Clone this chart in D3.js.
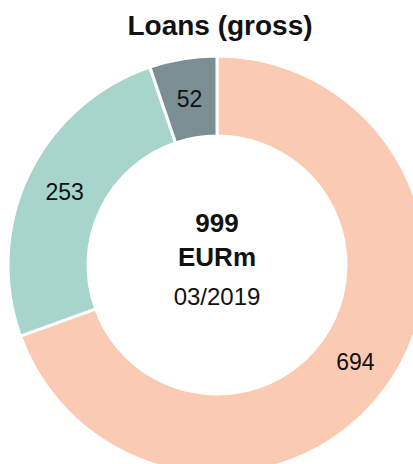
<!DOCTYPE html>
<html lang="en">
  <head>
    <meta charset="UTF-8" />
    <script src="https://d3js.org/d3.v7.min.js"></script>
    <style>
      body { margin: 0; background: #fff; }
      text { font-family: "Liberation Sans", Arial, sans-serif; fill: #111; }
    </style>
    <title>Loans (gross)</title>
  </head>
  <body>
    <svg id="chart" width="413" height="464"></svg>
    <script>
      // data
      const categories = ["A", "B", "C"];
      const values = [694, 253, 52];
      const colors = ["#fbcab2", "#a8d5cb", "#7b8e93"];
      const title = "Loans (gross)";
      const total = "999";
      const unit = "EURm";
      const date = "03/2019";

      const svg = d3.select("#chart");
      const cx = 217, cy = 265;
      const outerR = 209, innerR = 129;

      svg.append("text")
        .attr("x", 220)
        .attr("y", 35)
        .attr("text-anchor", "middle")
        .style("font-size", "28px")
        .style("font-weight", "bold")
        .text(title);

      const g = svg.append("g").attr("transform", `translate(${cx},${cy})`);

      const pie = d3.pie().sort(null).value((d) => d.value);
      const arc = d3.arc().innerRadius(innerR).outerRadius(outerR);
      const data = categories.map((c, i) => ({ cat: c, value: values[i], color: colors[i] }));

      g.selectAll("path")
        .data(pie(data))
        .join("path")
        .attr("d", arc)
        .attr("fill", (d) => d.data.color)
        .attr("stroke", "#fff")
        .attr("stroke-width", 3);

      g.selectAll("text.lbl")
        .data(pie(data))
        .join("text")
        .attr("class", "lbl")
        .attr("transform", (d) => `translate(${arc.centroid(d)})`)
        .attr("text-anchor", "middle")
        .attr("dy", "0.36em")
        .style("font-size", "23px")
        .text((d) => d.data.value);

      g.append("text")
        .attr("y", -33)
        .attr("text-anchor", "middle")
        .style("font-size", "26px")
        .style("font-weight", "bold")
        .text(total);
      g.append("text")
        .attr("y", 1)
        .attr("text-anchor", "middle")
        .style("font-size", "26px")
        .style("font-weight", "bold")
        .text(unit);
      g.append("text")
        .attr("y", 40)
        .attr("text-anchor", "middle")
        .style("font-size", "24px")
        .text(date);
    </script>
  </body>
</html>
